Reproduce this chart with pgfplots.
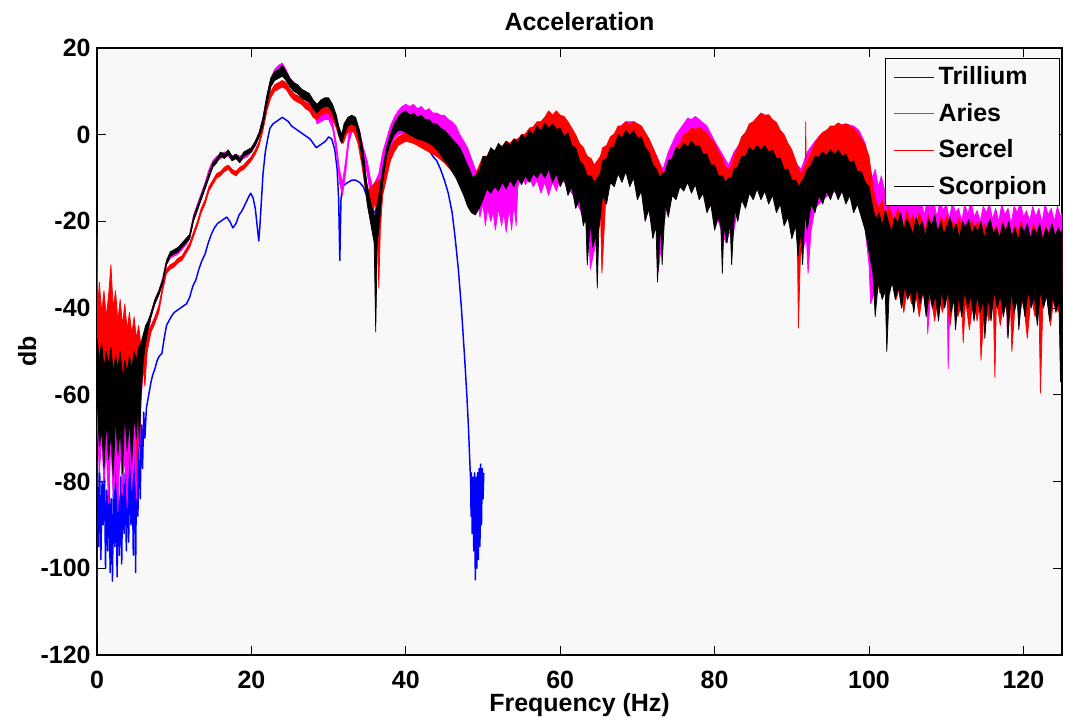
\documentclass[border=0pt]{standalone}
\usepackage{fontspec}
\setmainfont{Liberation Sans}
\usepackage{pgfplots}
\pgfplotsset{compat=1.18}
\usetikzlibrary{calc}
\definecolor{bgc}{RGB}{248,248,248}
\definecolor{mag}{RGB}{255,0,255}
\newcommand{\lf}{\bfseries\fontsize{12}{14.4}\selectfont}

\begin{document}
\begin{tikzpicture}
\begin{axis}[
  name=ax, scale only axis, width=463.5pt, height=291.5pt,
  xmin=0, xmax=125, ymin=-120, ymax=20,
  xtick={0,20,...,120}, ytick={-120,-100,...,20},
  tick align=inside, major tick length=4.3pt,
  axis line style={line width=0.7pt},
  every tick/.style={black, line width=0.5pt},
  axis background/.style={fill=bgc},
  /pgf/number format/assume math mode=true,
  tick label style={font=\lf},
  xticklabel style={anchor=base, yshift=-16.3pt},
  yticklabel style={anchor=east, inner sep=0pt, xshift=-2.9pt},
  title={Acceleration},
  title style={font=\lf, at={(axis description cs:0.5,1)}, anchor=base, yshift=2.6pt},
  xlabel={Frequency (Hz)},
  xlabel style={font=\lf, at={(axis description cs:0.5,0)}, anchor=base, yshift=-27.4pt},
  ylabel={db},
  ylabel style={font=\lf, at={(axis description cs:-0.0632,0.5)}, anchor=base},
  legend style={at={(0.998,0.984)}, anchor=north east, font=\lf, draw=black,
    line width=0.7pt, fill=bgc, inner xsep=4pt, inner ysep=2pt, row sep=3.3pt,
    cells={anchor=west}},
  legend image code/.code={\draw[#1, line width=0.6pt] (0pt,0pt) -- (19pt,0pt);},
]

% Trillium
\addplot[blue, line width=0.7pt, line join=round] coordinates {
(0,-115) (0.05,-75) (0.2,-95) (0.35,-78) (0.5,-98) (0.65,-80) (0.8,-90) (0.95,-76)
(1.1,-100) (1.25,-82) (1.4,-96) (1.55,-78) (1.7,-101) (1.85,-84) (2.0,-103) (2.15,-80)
(2.3,-95) (2.45,-77) (2.6,-102) (2.75,-83) (2.9,-97) (3.05,-79) (3.2,-99) (3.35,-76)
(3.5,-92) (3.65,-78) (3.8,-96) (3.95,-75) (4.1,-94) (4.25,-73) (4.4,-90) (4.55,-76)
(4.7,-97) (4.85,-70) (5.0,-101) (5.15,-69) (5.3,-88) (5.45,-66) (5.6,-84) (5.75,-67)
(5.9,-77) (6.05,-64) (6.2,-70) (6.4,-63) (6.6,-61) (6.8,-59) (7.0,-57) (7.2,-55.5)
(7.5,-54) (7.8,-52) (8.1,-51) (8.4,-50.5) (8.7,-47) (9.0,-44) (9.3,-43) (9.6,-42)
(10,-41) (10.4,-40.5) (10.8,-40) (11.2,-39.5) (11.6,-39) (12,-37.5) (12.4,-35) (12.8,-33.5)
(13.2,-31) (13.6,-29) (14,-27.5) (14.4,-25) (14.8,-23) (15.2,-21.5) (15.6,-20.5) (16,-20)
(16.4,-19.5) (16.8,-19) (17.2,-20) (17.6,-21.5) (18,-20.5) (18.4,-18.5) (18.8,-17.5) (19.2,-16)
(19.6,-14.5) (19.9,-13.5) (20.2,-14.5) (20.5,-17) (20.8,-22) (20.95,-24.5) (21.1,-21) (21.3,-15)
(21.5,-9) (21.8,-4) (22.1,-1) (22.4,1.5) (22.8,2.5) (23.2,3) (23.6,3.5) (24,4)
(24.4,3.5) (24.8,3) (25.2,2) (25.6,1.5) (26,1) (26.4,0.5) (26.8,0) (27.2,-0.5)
(27.6,-1) (28,-2) (28.4,-3) (28.8,-2.5) (29.2,-2) (29.6,-1.5) (30,-0.5) (30.4,-1)
(30.8,-3.5) (31.1,-8) (31.3,-15) (31.45,-29) (31.6,-15) (31.8,-12) (32.1,-11.5) (32.5,-11)
(33,-10.5) (33.5,-10.5) (34,-11) (34.5,-12) (35,-14.5) (35.5,-17) (36,-18) (36.5,-15)
(37,-11) (37.5,-6.5) (38,-3.5) (38.5,-2) (39,-1) (39.5,-0.5) (40,-0.5) (40.5,-0.5)
(41,-1) (41.5,-1.5) (42,-2) (42.5,-2.5) (43,-3.5) (43.5,-5) (44,-6) (44.5,-8)
(45,-10.5) (45.5,-13.5) (46,-18) (46.4,-24) (46.8,-31) (47.2,-40) (47.6,-51) (47.9,-60)
(48.1,-67) (48.3,-76) (48.4,-80) (48.45,-88) (48.5,-78) (48.6,-92) (48.7,-79) (48.8,-96)
(48.9,-78) (49.0,-102.7) (49.1,-79) (49.2,-100) (49.3,-78) (49.4,-98) (49.5,-77) (49.6,-95)
(49.7,-76) (49.8,-90) (49.9,-77) (50.0,-84) (50.1,-78)
};

% Aries
\addplot[forget plot, fill=mag, draw=mag, line width=0.35pt, line join=round] coordinates {
(0,-60) (0.3,-58) (0.6,-62) (0.9,-57) (1.2,-63) (1.5,-59) (1.8,-64) (2.1,-60) (2.4,-65) (2.7,-61)
(3,-63) (3.3,-60) (3.6,-64) (3.9,-61) (4.2,-63) (4.5,-60) (4.8,-62) (5.1,-58) (5.4,-56) (5.7,-53)
(6,-50) (6.5,-45) (7,-41) (7.5,-38) (8,-36) (8.5,-33) (9,-29) (9.5,-27.5) (10,-27) (10.5,-26.5)
(11,-25.5) (11.5,-24.5) (12,-23) (12.5,-18.5) (13,-16) (13.5,-13.5) (14,-11) (14.5,-8) (15,-6)
(15.5,-5) (16,-4.5) (16.5,-4) (17,-4) (17.5,-5) (18,-4.5) (18.5,-5) (19,-4.5) (19.5,-4) (20,-3)
(20.5,-1.5) (21,0.5) (21.5,4) (22,9) (22.5,13) (23,15) (23.5,16) (24,16.5) (24.5,15) (25,13)
(25.5,12) (26,11) (26.5,10) (27,9.5) (27.5,8.5) (28,7) (28.5,4) (29,4.5) (29.5,5) (30,5)
(30.5,3) (31,-2) (31.4,-8) (31.8,-11) (32.2,-6) (32.6,0) (33,2) (33.5,3) (34,1) (34.5,-3)
(35,-6) (35.4,-10) (35.7,-12) (36,-11) (36.5,-9) (37,-4) (37.5,-1) (38,2) (38.5,4) (39,5.5)
(39.5,6.5) (40,7) (40.5,6.5) (41,7) (41.5,6) (42,6.5) (42.5,5.5) (43,6) (43.5,5) (44,5)
(44.5,4.5) (45,4.5) (45.5,3.5) (46,3) (46.5,2) (47,0) (47.5,-1.5) (48,-3) (48.5,-5.5) (49,-8)
(49.5,-9) (50,-8) (51,-6) (52,-4) (53,-3) (54,-2) (55,-1) (56,0) (57,1) (58,2) (59,2.5) (60,2)
(61,0.5) (62,-2) (63,-5) (64,-8) (64.8,-9) (65.5,-6) (66.5,-2) (67.5,1.5) (68.5,3) (69.5,3)
(70.5,2) (71.5,-1) (72.5,-5) (73.3,-8) (74,-4) (75,0) (76,2.5) (76.5,3.8) (77,3.5) (77.5,4.2) (78,3.5) (79,2)
(80,-1.5) (81,-4.5) (81.8,-7) (82.5,-4) (83.5,-1.5) (84.5,0.5) (85.5,1.2) (86.5,1) (87.5,0)
(88.5,-2) (89.5,-4) (90.5,-6.5) (91.2,-8) (92,-4) (93,-1.5) (94,0.5) (95,1.5) (96,2) (97,2.5)
(98,2) (98.7,1) (99.5,-2) (100,-6) (100.4,-10) (100.8,-8) (101.2,-12) (101.6,-9.5) (102,-13)
(102.4,-10) (102.8,-14) (103.2,-11) (103.6,-12.5) (104,-15) (104.4,-11.5) (104.8,-16) (105.2,-13)
(105.6,-14.5) (106,-17) (106.4,-13.5) (106.8,-16) (107.2,-18.5) (107.6,-14) (108,-17) (108.4,-15.5)
(108.8,-19) (109.2,-15) (109.6,-17.5) (110,-16) (110.4,-19.5) (110.8,-15.5) (111.2,-18) (111.6,-17)
(112,-20) (112.4,-16) (112.8,-18.5) (113.2,-15) (113.6,-19) (114,-17.5) (114.4,-20) (114.8,-16.5)
(115.2,-18) (115.6,-16) (116,-19.5) (116.4,-17) (116.8,-20) (117.2,-16) (117.6,-18.5) (118,-17)
(118.4,-20.5) (118.8,-16.5) (119.2,-18) (119.6,-15.5) (120,-19) (120.4,-17.5) (120.8,-20)
(121.2,-16.5) (121.6,-19) (122,-17) (122.4,-20.5) (122.8,-16) (123.2,-18.5) (123.6,-17) (124,-20)
(124.4,-16.5) (124.8,-19) (125,-18)
(125,-32) (124.5,-38) (124,-34) (123.5,-42) (123,-33) (122.5,-36) (122,-32) (121.5,-37) (121,-33)
(120.5,-35) (120,-31) (119.5,-36) (119,-33) (118.5,-35) (118,-32) (117.9,-46.6) (117.8,-32)
(117.5,-36) (117,-33) (116.5,-37) (116,-33) (115.5,-35) (115,-32) (114.5,-37) (114,-33)
(113.5,-36) (113,-32) (112.5,-35) (112,-33) (111.5,-38) (111,-33) (110.5,-36) (110.25,-54)
(110.1,-35) (109.5,-33) (109,-37) (108.5,-33) (108,-36) (107.6,-46) (107.4,-33) (107,-36)
(106.5,-32) (106,-35) (105.5,-31) (105,-35) (104.5,-31) (104,-34) (103.5,-30) (103,-34)
(102.5,-30) (102,-33) (101.5,-31) (101,-35) (100.2,-39) (100,-30) (99.5,-22) (99,-18)
(98.5,-15) (98,-14) (97,-13) (96,-13) (95,-13.5) (94,-15) (93,-17) (92.5,-22) (92.1,-32)
(91.9,-24) (91.5,-26) (91,-24) (90.5,-21) (90,-20) (89,-17) (88,-15) (87,-13) (86,-12.5)
(85,-13) (84,-14) (83,-17) (82.3,-24) (82,-22) (81.5,-25) (81,-23) (80.5,-20) (80,-18) (79,-15)
(78,-12) (77,-10.5) (76,-11) (75,-12.5) (74,-15) (73.3,-22) (72.7,-31.6) (72.5,-22) (72,-21)
(71,-15) (70,-11) (69,-8.5) (68,-8) (67,-9.5) (66,-13) (65.2,-19) (64.6,-25) (63.9,-31)
(63.7,-22) (63,-19) (62,-15) (61,-12) (60,-10) (59.5,-13) (59,-11) (58.5,-14) (58,-11)
(57.5,-13.5) (57,-10.5) (56.5,-12) (56,-10) (55.5,-11.5) (55,-9.5) (54.5,-12) (54.3,-21)
(54,-16) (53.7,-22) (53.4,-17) (53,-22.5) (52.7,-18) (52.4,-21) (52,-17) (51.6,-22) (51.3,-18)
(51,-20) (50.6,-17) (50.3,-21) (50,-16) (49.6,-19) (49.2,-14) (48.5,-15) (48,-14) (47,-11)
(46,-8) (45,-5.5) (44,-3) (43,-1.5) (42,-0.5) (41,0) (40,0.5) (39,0) (38.5,-1) (38,-3)
(37.5,-6) (37,-10) (36.5,-14) (36,-16) (35.5,-15) (35,-9) (34.5,-5) (34,-1) (33.5,1.5)
(33,0.5) (32.6,-2) (32.2,-9) (31.8,-14) (31.4,-11) (31,-4) (30.5,1.5) (30,3.5) (29.5,3.5)
(29,3) (28.5,2.5) (28,5.5) (27.5,7) (27,8) (26.5,8.5) (26,9.5) (25.5,10.5) (25,11.5)
(24.5,13.5) (24,15) (23.5,14.5) (23,13.5) (22.5,11.5) (22,7.5) (21.5,2.5) (21,-0.5)
(20.5,-2.5) (20,-4) (19.5,-5) (19,-5.5) (18.5,-6) (18,-5.5) (17.5,-6) (17,-5) (16.5,-5)
(16,-5.5) (15.5,-6) (15,-7) (14.5,-9) (14,-12) (13.5,-14.5) (13,-17) (12.5,-19.5) (12,-24)
(11.5,-25.5) (11,-26.5) (10.5,-27.5) (10,-28) (9.5,-28.5) (9,-30) (8.5,-34) (8,-37) (7.5,-39)
(7,-42) (6.5,-47) (6,-53) (5.7,-62) (5.5,-75) (5.3,-68) (5.1,-84) (4.8,-72) (4.5,-82) (4.2,-70)
(3.9,-86) (3.6,-74) (3.3,-83) (3,-72) (2.7,-87) (2.4,-75) (2.1,-84) (1.8,-71) (1.5,-85)
(1.2,-73) (0.9,-80) (0.6,-70) (0.3,-78) (0,-65)
};

% Sercel
\addplot[forget plot, fill=red, draw=red, line width=0.35pt, line join=round] coordinates {
(0,-23) (0.1,-40) (0.3,-34) (0.6,-41) (0.9,-36) (1.2,-42) (1.5,-37) (1.8,-30) (2.1,-40) (2.4,-36)
(2.7,-43) (3,-38) (3.3,-44) (3.6,-39) (3.9,-45) (4.2,-41) (4.5,-46) (4.8,-42) (5.1,-47) (5.4,-44)
(5.7,-49) (6,-47) (6.5,-46) (7,-44) (7.5,-42) (8,-39.5) (8.5,-35) (9,-31) (9.5,-30) (10,-29.5)
(10.5,-28.5) (11,-28) (11.5,-26.5) (12,-25) (12.5,-22.5) (13,-20) (13.5,-17) (14,-15) (14.5,-12)
(15,-10.5) (15.5,-9) (16,-8.5) (16.5,-7.5) (17,-7) (17.5,-8) (18,-8.5) (18.5,-7.5) (19,-7)
(19.5,-6) (20,-5) (20.5,-3.5) (21,-1.5) (21.5,2.5) (22,7) (22.5,10) (23,11.5) (23.5,12)
(24,12.5) (24.5,12) (25,10.5) (25.5,9.5) (26,9) (26.5,8.5) (27,7.5) (27.5,7) (28,5.5) (28.5,5)
(29,6) (29.5,6.5) (30,6.5) (30.5,5) (31,3) (31.5,0) (31.9,-0.5) (32.3,1.5) (32.8,2.5) (33.3,2.2)
(33.8,0) (34.3,-4) (34.8,-10) (35.2,-13) (35.6,-12) (36,-11) (36.5,-10.5) (37,-10) (37.5,-6)
(38,-3) (38.5,-1.5) (39,-0.5) (39.5,0) (40,0.5) (40.5,1.5) (41,1) (41.5,1.5) (42,0.5) (42.5,1)
(43,0) (43.5,-0.5) (44,-1.5) (44.5,-2) (45,-3) (45.5,-3.5) (46,-5) (46.5,-6) (47,-7.5) (47.5,-8.5)
(48,-10) (48.6,-11) (49.3,-8) (50,-5) (50.5,-5) (51,-3.5) (51.5,-3.8) (52,-2.5) (52.5,-2.6)
(53,-1.5) (53.5,-2) (54,-1) (54.5,-1) (55,0) (55.5,0.2) (56,1.5) (56.5,1.8) (57,3) (57.5,3)
(58,4) (58.5,5.5) (59,4.5) (59.5,5.5) (60,4.5) (60.5,4.2) (61,3) (61.5,1.5) (62,0) (62.5,-2)
(63,-3) (63.5,-5) (64,-5.5) (64.4,-7) (64.8,-6) (65.2,-5) (65.5,-3) (66,-2.5) (66.5,-0.5)
(67,0.2) (67.5,2) (68,2) (68.5,3) (69,2.4) (69.5,3) (70,2.5) (70.5,2) (71,0.5) (71.5,-1)
(72,-3) (72.5,-5) (73,-7.5) (73.5,-9.5) (74,-8) (74.3,-6) (74.7,-5) (75,-3) (75.5,-2) (76,0)
(76.5,0.5) (77,1.5) (77.5,1.2) (78,1.8) (78.5,1) (79,0.5) (79.5,-1) (80,-2) (80.5,-4)
(81,-5.5) (81.4,-7.5) (81.8,-8) (82.2,-7) (82.5,-5) (83,-3) (83.5,-0.5) (84,0.5) (84.5,2.5)
(85,3) (85.5,4) (86,5) (86.5,4.5) (87,4.6) (87.5,3.5) (88,2.8) (88.5,1) (89,0) (89.5,-2)
(90,-3.5) (90.5,-6) (90.9,-8) (91.2,-9) (91.75,-7) (91.8,3) (91.85,-7) (92.5,-4) (93,-2)
(93.5,-0.5) (94,0.5) (94.5,1) (95,2) (95.5,2) (96,2.7) (96.5,2.2) (97,2.5) (97.5,2) (98,1.5)
(98.5,0.5) (99,-1) (99.5,-2.5) (100,-5) (100.5,-12) (100.9,-15.5) (101.3,-17) (101.7,-15)
(102.1,-19) (102.5,-16.5) (102.9,-18) (103.3,-20.5) (103.7,-17) (104.1,-19) (104.5,-21)
(104.9,-17.5) (105.3,-20) (105.7,-18.5) (106.1,-21.5) (106.5,-18) (106.9,-20) (107.3,-22)
(107.7,-18.5) (108.1,-21) (108.5,-19.5) (108.9,-22.5) (109.3,-19) (109.7,-20.5) (110.1,-18.5)
(110.5,-22) (110.9,-20) (111.3,-21.5) (111.7,-19) (112.1,-22.5) (112.5,-20.5) (112.9,-23)
(113.3,-19.5) (113.7,-21.5) (114.1,-20) (114.5,-23) (114.9,-20.5) (115.3,-22) (115.7,-19.5)
(116.1,-22.5) (116.5,-21) (116.9,-23.5) (117.3,-20) (117.7,-22) (118.1,-20.5) (118.5,-23.5)
(118.9,-21) (119.3,-22.5) (119.7,-20) (120.1,-23) (120.5,-21.5) (120.9,-24) (121.3,-20.5)
(121.7,-22.5) (122.1,-21) (122.5,-24) (122.9,-21) (123.3,-23) (123.7,-20.5) (124.1,-23.5)
(124.5,-21.5) (124.9,-23) (125,-21.5)
(125,-36) (124.5,-41) (124,-37) (123.5,-44) (123,-37) (122.5,-40) (122.2,-59.6) (122,-38)
(121.5,-42) (121,-37) (120.5,-47) (120,-38) (119.5,-41) (119,-37) (118.5,-50) (118.3,-38)
(118,-42) (117.5,-38) (117,-44) (116.5,-38) (116.3,-56) (116.1,-39) (115.5,-43) (115,-38)
(114.5,-52) (114.3,-39) (114,-43) (113.5,-38) (113,-45) (112.5,-38) (112.2,-48) (112,-39)
(111.5,-42) (111,-37) (110.5,-44) (110,-37) (109.5,-41) (109,-37) (108.5,-43) (108,-37)
(107.5,-40) (107,-36) (106.5,-42) (106,-36) (105.5,-39) (105,-35) (104.5,-41) (104,-35)
(103.5,-38) (103,-34) (102.5,-37) (102,-34) (101.4,-36.5) (101,-33) (100.5,-30) (100,-22)
(99,-17) (98,-13) (97,-11) (96,-10.5) (95,-11) (94,-12) (93,-14) (92,-18) (91.2,-22)
(90.85,-44.6) (90.7,-22) (90,-19) (89,-15) (88,-12) (87,-10) (86,-9.5) (85,-10) (84,-12)
(83,-15) (82,-21) (81,-19) (80,-15) (79,-12) (78,-9.5) (77,-8.5) (76,-9) (75,-11) (74,-14)
(73,-19) (72,-17) (71,-12) (70,-8.5) (69,-6.5) (68,-6) (67,-7.5) (66,-11) (65.4,-32) (65.2,-16)
(65,-20) (64,-20) (63,-16) (62,-12) (61,-9) (60,-6.5) (59,-5.5) (58,-5.5) (57,-6.5) (56,-7)
(55,-7.5) (54,-8.5) (53,-9.5) (52,-10.5) (51,-11) (50,-12.5) (49,-17) (48.5,-18) (48,-15)
(47,-11) (46,-8.5) (45,-6.5) (44,-5) (43,-4) (42,-3) (41,-2) (40,-1.5) (39,-2.5) (38.5,-4)
(38,-6) (37.5,-10) (37,-14) (36.7,-22) (36.5,-35.4) (36.3,-20) (36,-15) (35.6,-21) (35.4,-16)
(35.2,-18) (34.8,-13) (34.3,-7) (33.8,-2) (33.3,0.5) (32.8,1) (32.3,0) (31.9,-2) (31.5,-1.5)
(31,1.5) (30.5,3.5) (30,5) (29.5,5) (29,4.5) (28.5,3.5) (28,4) (27.5,5.5) (27,6) (26.5,7)
(26,7.5) (25.5,8) (25,9) (24.5,10.5) (24,11) (23.5,10.5) (23,10) (22.5,8.5) (22,5.5) (21.5,1)
(21,-2.5) (20.5,-4.5) (20,-6) (19.5,-7) (19,-8) (18.5,-8.5) (18,-9.5) (17.5,-9) (17,-8)
(16.5,-8.5) (16,-9.5) (15.5,-10) (15,-11.5) (14.5,-13) (14,-16) (13.5,-18) (13,-21) (12.5,-23.5)
(12,-26) (11.5,-27.5) (11,-29) (10.5,-29.5) (10,-30.5) (9.5,-31) (9,-32) (8.5,-36) (8,-41)
(7.5,-43.5) (7,-45.5) (6.5,-50) (6.2,-58) (6,-54) (5.7,-60) (5.4,-56) (5.2,-81) (5.05,-58)
(4.8,-62) (4.5,-55) (4.2,-63) (3.9,-56) (3.6,-66) (3.3,-55) (3,-60) (2.7,-54) (2.4,-62)
(2.1,-55) (1.8,-60) (1.5,-53) (1.2,-59) (0.9,-52) (0.6,-57) (0.3,-50) (0.05,-55) (0,-40)
};

% Scorpion
\addplot[forget plot, fill=black, draw=black, line width=0.35pt, line join=round] coordinates {
(0,-47) (0.3,-52) (0.6,-48) (0.9,-54) (1.2,-50) (1.5,-53) (1.8,-49) (2.1,-55) (2.4,-51) (2.7,-54)
(3,-50) (3.3,-56) (3.6,-52) (3.9,-55) (4.2,-51) (4.5,-54) (4.8,-50) (5.1,-52) (5.4,-49) (5.7,-48)
(6,-46) (6.3,-44) (6.6,-43) (7,-41) (7.5,-38) (8,-36) (8.5,-33.5) (9,-29) (9.5,-27) (10,-26.5)
(10.5,-26) (11,-25) (11.5,-24) (12,-23) (12.5,-19) (13,-16.5) (13.5,-14) (14,-11.5) (14.5,-9)
(15,-6.5) (15.5,-5.5) (16,-4) (16.5,-4.5) (17,-3.5) (17.5,-5) (18,-4.5) (18.5,-5.5) (19,-4)
(19.5,-3.5) (20,-3) (20.5,-1.5) (21,0.5) (21.5,4) (22,9) (22.5,13) (23,14.5) (23.5,15) (24,16)
(24.5,14.5) (25,13) (25.5,12) (26,11.5) (26.5,10.5) (27,10) (27.5,9.5) (28,8) (28.5,7) (29,8)
(29.5,8.5) (30,8.5) (30.5,7) (31,4.5) (31.3,2) (31.7,0) (32,2.5) (32.5,4) (33,4.5) (33.5,4)
(34,1) (34.5,-4) (35,-12) (35.5,-16) (36,-19) (36.5,-14) (37,-8) (37.5,-3) (38,0) (38.5,2.5)
(39,4) (39.5,5) (40,5.5) (40.5,4.5) (41,5) (41.5,4) (42,4.5) (42.5,3.5) (43,3.5) (43.5,2.5)
(44,2.5) (44.5,1.5) (45,1) (45.5,0) (46,-1) (46.5,-2) (47,-3) (47.5,-5) (48,-7) (48.7,-10)
(49.2,-9) (49.6,-8) (50,-5) (50.5,-5.2) (51,-3) (51.5,-3.8) (52,-2) (52.5,-3) (53,-1.5)
(53.5,-2.6) (54,-1) (54.5,-1.8) (55,0) (55.5,-0.8) (56,1) (56.5,0) (57,2) (57.5,0.8) (58,2.7)
(58.5,1.5) (59,2.5) (59.5,1.2) (60,1.5) (60.5,-0.5) (61,0.5) (61.5,-2.5) (62,-3) (62.5,-6)
(63,-7) (63.5,-9.5) (64,-9.5) (64.4,-11) (64.8,-10) (65.2,-9) (65.5,-6) (66,-5.5) (66.5,-3)
(67,-2.8) (67.5,0) (68,-0.8) (68.5,1) (69,-0.2) (69.5,1) (70,-0.8) (70.5,-0.5) (71,-3)
(71.5,-4) (72,-7) (72.5,-8) (72.9,-10) (73.2,-9) (73.6,-8.5) (74,-6) (74.5,-5.5) (75,-3)
(75.5,-3.5) (76,-2) (76.5,-2.8) (77,-1.5) (77.5,-2.7) (78,-2.5) (78.5,-4.5) (79,-4.5) (79.5,-7)
(80,-7) (80.5,-9.5) (81,-9.5) (81.4,-11) (81.8,-10) (82.2,-10) (82.5,-8) (83,-7.5) (83.5,-5)
(84,-5) (84.5,-3) (85,-3.8) (85.5,-2.5) (86,-3.5) (86.5,-2.5) (87,-4) (87.5,-3.5) (88,-5.5)
(88.5,-5.5) (89,-8) (89.5,-8) (90,-10.5) (90.5,-10.5) (90.9,-12) (91.2,-11) (91.6,-10) (92,-8)
(92.5,-7) (93,-5) (93.5,-5.2) (94,-4) (94.5,-4.8) (95,-3.5) (95.5,-4.5) (96,-3.5) (96.5,-5)
(97,-4.5) (97.5,-6.5) (98,-6) (98.5,-8.5) (99,-8.5) (99.5,-11) (100,-12)
(100.5,-17) (100.9,-19.5) (101.3,-18) (101.7,-21) (102.1,-17.5) (102.5,-20) (102.9,-22.5)
(103.3,-19) (103.7,-20.5) (104.1,-18) (104.5,-22) (104.9,-19.5) (105.3,-21) (105.7,-23)
(106.1,-19) (106.5,-21.5) (106.9,-20) (107.3,-23.5) (107.7,-19.5) (108.1,-21) (108.5,-18.5)
(108.9,-22.5) (109.3,-20) (109.7,-23) (110.1,-21) (110.5,-19) (110.9,-22.5) (111.3,-20.5)
(111.7,-24) (112.1,-20) (112.5,-21.5) (112.9,-19.5) (113.3,-23) (113.7,-21) (114.1,-22.5)
(114.5,-20) (114.9,-24) (115.3,-21) (115.7,-19.5) (116.1,-23) (116.5,-21.5) (116.9,-24)
(117.3,-20.5) (117.7,-22.5) (118.1,-20) (118.5,-23.5) (118.9,-21.5) (119.3,-24.5) (119.7,-21)
(120.1,-22.5) (120.5,-20.5) (120.9,-24) (121.3,-21.5) (121.7,-23) (122.1,-20.5) (122.5,-24.5)
(122.9,-21.5) (123.3,-23) (123.7,-20.5) (124.1,-23.5) (124.5,-21.5) (124.9,-23) (125,-22)
(125,-37) (124.8,-57) (124.6,-38) (124.2,-41) (123.8,-37) (123.4,-43) (123,-37) (122.6,-40)
(122.2,-36) (121.8,-44) (121.4,-37) (121,-40) (120.6,-36) (120.2,-42) (119.8,-37) (119.4,-45)
(119.2,-38) (118.8,-41) (118.4,-36) (118,-47) (117.8,-38) (117.4,-42) (117,-37) (116.6,-40)
(116.2,-36) (115.8,-43) (115.4,-37) (115,-47) (114.8,-38) (114.4,-41) (114,-37) (113.6,-43)
(113.2,-37) (112.8,-40) (112.4,-36) (112,-42) (111.6,-37) (111.2,-45) (111,-38) (110.6,-41)
(110.2,-36) (109.8,-40) (109.4,-36) (109,-43) (108.6,-37) (108.2,-40) (107.8,-36) (107.4,-42)
(107,-36) (106.6,-39) (106.2,-35) (105.8,-41) (105.4,-36) (105,-38) (104.6,-35) (104.2,-40)
(103.8,-35) (103.4,-38) (103,-34) (102.6,-37) (102.3,-50) (102.1,-36) (101.7,-38) (101.2,-34)
(100.8,-42) (100.5,-32) (100,-27) (99.5,-22) (99,-19) (98.5,-16) (98,-18) (97.5,-14) (97,-16)
(96.5,-13) (96,-15) (95.5,-12.5) (95,-15) (94.5,-13) (94,-16) (93.5,-14) (93,-18) (92.5,-16)
(92,-22) (91.7,-18) (91.4,-30) (91.1,-22) (90.8,-28) (90.5,-21) (90,-24) (89.5,-19) (89,-21)
(88.5,-16) (88,-18) (87.5,-14) (87,-16) (86.5,-13) (86,-15) (85.5,-12.5) (85,-15) (84.5,-13.5)
(84,-17) (83.5,-15) (83,-20) (82.6,-17) (82.2,-30) (82,-20) (81.6,-25) (81.2,-21) (81,-32)
(80.8,-21) (80.5,-19) (80,-22) (79.5,-16) (79,-18) (78.5,-13.5) (78,-15) (77.5,-11.5) (77,-13.5)
(76.5,-11) (76,-13) (75.5,-12) (75,-15) (74.5,-14) (74,-19) (73.6,-16) (73.2,-30) (73,-20)
(72.6,-34) (72.4,-21) (72,-24) (71.5,-17) (71,-20) (70.5,-13) (70,-15) (69.5,-10) (69,-12)
(68.5,-8.5) (68,-11) (67.5,-9) (67,-12) (66.5,-11) (66,-16) (65.5,-14) (65,-22) (64.8,-35.4)
(64.6,-23) (64.2,-26) (63.9,-20) (63.5,-30) (63.3,-19) (63,-21) (62.5,-15) (62,-17) (61.5,-12)
(61,-14) (60.5,-10) (60,-12) (59.5,-9) (59,-11) (58.5,-8) (58,-10) (57.5,-8.5) (57,-10)
(56.5,-9) (56,-11) (55.5,-9.5) (55,-11.5) (54.5,-10) (54,-12) (53.5,-10.5) (53,-12.5) (52.5,-11)
(52,-13) (51.5,-12) (51,-13.5) (50.5,-12.5) (50,-15) (49.5,-17) (49,-18.5) (48.5,-18) (48,-16.5)
(47.5,-14) (47,-12) (46.5,-10) (46,-8.5) (45.5,-7) (45,-6) (44.5,-4.5) (44,-3.5) (43.5,-2.5)
(43,-2) (42.5,-1.5) (42,-1.2) (41.5,-1) (41,-0.5) (40.5,0) (40,0.5) (39.5,1) (39,1) (38.5,0)
(38,-2) (37.5,-5) (37,-11) (36.6,-20) (36.3,-25) (36.1,-45.5) (35.9,-25) (35.5,-21) (35,-16)
(34.5,-8) (34,-1.5) (33.5,2) (33,2.5) (32.5,2) (32,0) (31.7,-2) (31.3,0) (31,2.5) (30.5,5)
(30,6.5) (29.5,6.5) (29,6) (28.5,5) (28,6) (27.5,7.5) (27,8) (26.5,8.5) (26,9.5) (25.5,10)
(25,11) (24.5,12.5) (24,13.5) (23.5,13) (23,12.5) (22.5,11) (22,7) (21.5,2) (21,-0.5)
(20.5,-2.5) (20,-4) (19.5,-4.5) (19,-5) (18.5,-6.5) (18,-5.5) (17.5,-6) (17,-4.5) (16.5,-5.5)
(16,-5) (15.5,-6.5) (15,-7.5) (14.5,-10) (14,-12.5) (13.5,-15) (13,-17.5) (12.5,-20) (12,-24)
(11.5,-25) (11,-26) (10.5,-27) (10,-27.5) (9.5,-28) (9,-30) (8.5,-34.5) (8,-37) (7.5,-39)
(7,-42) (6.6,-45) (6.3,-48) (6,-52) (5.7,-60) (5.5,-72) (5.3,-62) (5.1,-70) (4.8,-65) (4.5,-76)
(4.2,-66) (3.9,-73) (3.6,-64) (3.3,-78) (3,-68) (2.7,-74) (2.4,-65) (2.1,-79) (1.8,-69)
(1.5,-75) (1.2,-66) (0.9,-77) (0.6,-68) (0.3,-72) (0,-60)
};

\addlegendimage{mag}
\addlegendimage{red}
\addlegendimage{black}
\legend{Trillium,Aries,Sercel,Scorpion}
\end{axis}
\pgfresetboundingbox
\path[use as bounding box] ($(ax.south west)+(-46.6pt,-33.1pt)$) rectangle ($(ax.north east)+(1.9pt,23.05pt)$);
\end{tikzpicture}
\end{document}
